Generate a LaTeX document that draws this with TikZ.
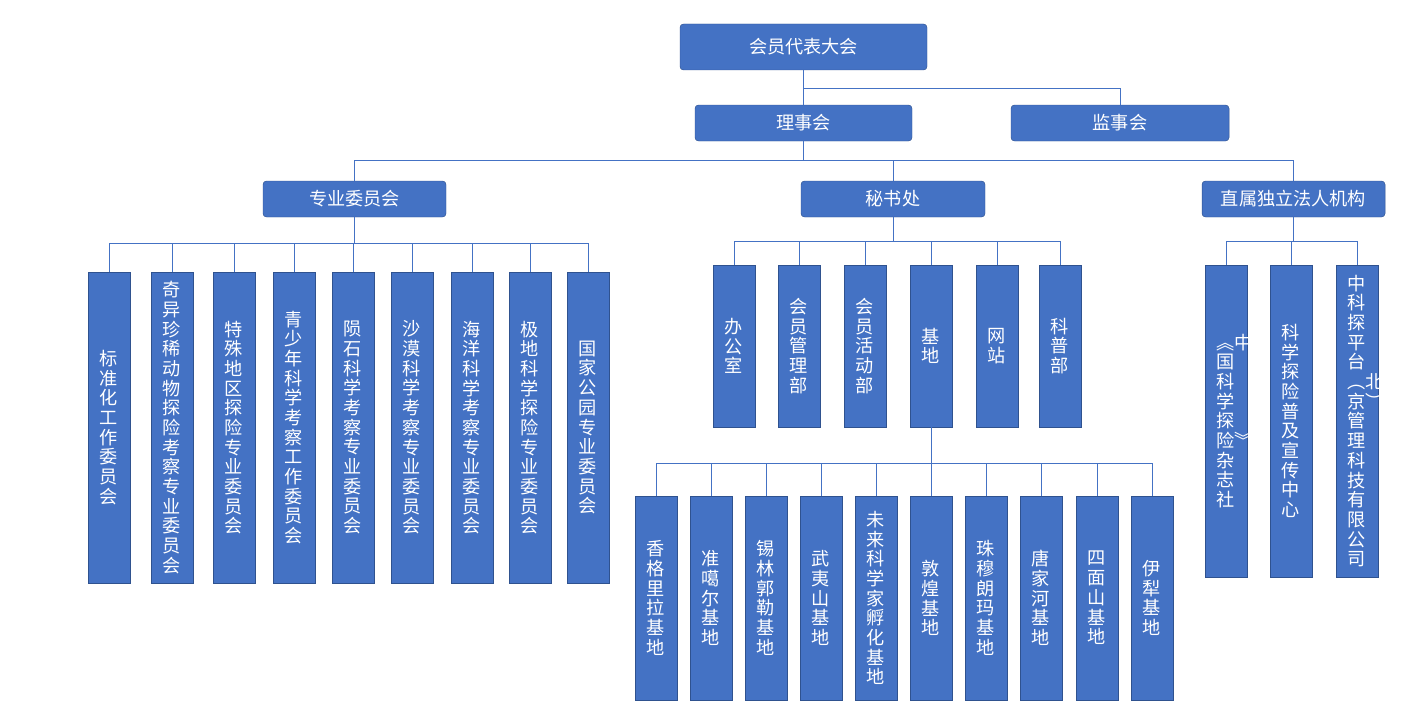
\documentclass[tikz,border=0pt]{standalone}
\usepackage{fontspec}
\setmainfont{Noto Sans CJK SC}
\XeTeXlinebreaklocale "zh"
\XeTeXlinebreakskip=0pt plus 1pt
\definecolor{bx}{HTML}{4472C4}
\definecolor{bd}{HTML}{2F528F}
\tikzset{
 box/.style={draw=bd,fill=bx,text=white,rounded corners=3pt,inner sep=0pt,font=\fontsize{15.5}{16.5}\selectfont},
 col/.style={draw=bd,fill=bx,text=white,inner sep=0pt,align=center,text width=16pt,font=\fontsize{15.5}{16.8}\selectfont},
 ln/.style={draw=bx,line width=0.8pt}
}
\newcommand{\hb}[6]{\node[box,minimum width={(#3-#2)*0.03cm},minimum height={(#5-#4)*0.03cm}] (#1) at ({(#2+#3)/2},{(#4+#5)/2}) {#6};}
\newcommand{\vb}[5]{\node[col,minimum width=1.26cm,minimum height={(#4-#3)*0.03cm}] (#1) at (#2,{(#3+#4)/2}) {#5};}
\begin{document}
\begin{tikzpicture}[x=0.03cm,y=-0.03cm]
\useasboundingbox (0,0) rectangle (1404,702);
\hb{top}{680}{927}{24}{70}{会员代表大会}
\hb{lsh}{695}{912}{105}{141}{理事会}
\hb{jsh}{1011}{1229}{105}{141}{监事会}
\hb{zy}{263}{446}{181}{217}{专业委员会}
\hb{ms}{801}{985}{181}{217}{秘书处}
\hb{zs}{1202}{1385}{181}{217}{直属独立法人机构}
% committees
\vb{c1}{109}{272}{583}{标准化工作委员会}
\vb{c2}{172}{272}{583}{奇异珍稀动物探险考察专业委员会}
\vb{c3}{234}{272}{583}{特殊地区探险专业委员会}
\vb{c4}{294}{272}{583}{青少年科学考察工作委员会}
\vb{c5}{353}{272}{583}{陨石科学考察专业委员会}
\vb{c6}{412}{272}{583}{沙漠科学考察专业委员会}
\vb{c7}{472}{272}{583}{海洋科学考察专业委员会}
\vb{c8}{530}{272}{583}{极地科学探险专业委员会}
\vb{c9}{588}{272}{583}{国家公园专业委员会}
% secretariat
\vb{s1}{734}{265}{427}{办公室}
\vb{s2}{799}{265}{427}{会员管理部}
\vb{s3}{865}{265}{427}{会员活动部}
\vb{s4}{931}{265}{427}{基地}
\vb{s5}{997}{265}{427}{网站}
\vb{s6}{1060}{265}{427}{科普部}
% bases
\vb{b1}{656}{496}{700}{香格里拉基地}
\vb{b2}{711}{496}{700}{准噶尔基地}
\vb{b3}{766}{496}{700}{锡林郭勒基地}
\vb{b4}{821}{496}{700}{武夷山基地}
\vb{b5}{876}{496}{700}{未来科学家孵化基地}
\vb{b6}{931}{496}{700}{敦煌基地}
\vb{b7}{986}{496}{700}{珠穆朗玛基地}
\vb{b8}{1041}{496}{700}{唐家河基地}
\vb{b9}{1097}{496}{700}{四面山基地}
\vb{b10}{1152}{496}{700}{伊犁基地}
% legal
\vb{l1}{1226}{265}{577}{︽中国科学探险︾杂志社}
\vb{l2}{1291}{265}{577}{科学探险普及宣传中心}
\vb{l3}{1357}{265}{577}{中科探平台︵北京︶管理科技有限公司}
% connectors
\draw[ln] (top.south) -- (lsh.north);
\draw[ln] (top.south) ++(0,18) -| (jsh.north);
\draw[ln] (lsh.south) -- ++(0,19) coordinate (bus1);
\draw[ln] (bus1) -| (zy.north);
\draw[ln] (bus1) -| (ms.north);
\draw[ln] (bus1) -| (zs.north);
\foreach \n in {1,...,9}{\draw[ln] (zy.south) -- ++(0,26) -| (c\n.north);}
\foreach \n in {1,...,6}{\draw[ln] (ms.south) -- ++(0,24) -| (s\n.north);}
\foreach \n in {1,...,10}{\draw[ln] (s4.south) -- ++(0,36) -| (b\n.north);}
\foreach \n in {1,2,3}{\draw[ln] (zs.south) -- ++(0,24) -| (l\n.north);}
\end{tikzpicture}
\end{document}
